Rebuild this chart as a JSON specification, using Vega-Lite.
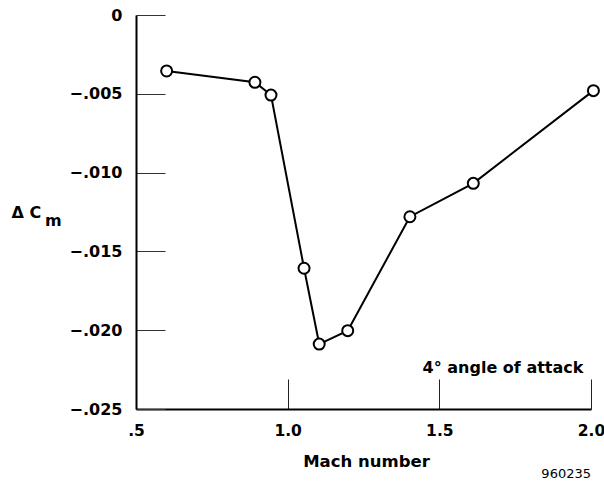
{
  "$schema": "https://vega.github.io/schema/vega-lite/v6.json",
  "width": 455,
  "height": 394,
  "autosize": {"type": "none"},
  "padding": {"left": 136, "top": 15, "right": 13, "bottom": 72},
  "background": "white",
  "config": {"view": {"stroke": null}, "font": "DejaVu Sans"},
  "title": {
    "text": "960235",
    "orient": "bottom",
    "anchor": "end",
    "frame": "group",
    "font": "DejaVu Sans",
    "fontSize": 13,
    "fontWeight": "normal",
    "color": "black",
    "offset": -2
  },
  "data": {
    "values": [
      {"Mach": 0.601, "dCm": -0.00355},
      {"Mach": 0.892, "dCm": -0.00427},
      {"Mach": 0.945, "dCm": -0.00508},
      {"Mach": 1.054, "dCm": -0.01607},
      {"Mach": 1.104, "dCm": -0.02088},
      {"Mach": 1.198, "dCm": -0.02003},
      {"Mach": 1.403, "dCm": -0.0128},
      {"Mach": 1.612, "dCm": -0.01068},
      {"Mach": 2.008, "dCm": -0.0048}
    ]
  },
  "encoding": {
    "x": {
      "field": "Mach",
      "type": "quantitative",
      "scale": {"domain": [0.5, 2.0], "nice": false, "zero": false},
      "axis": {
        "values": [0.5, 1, 1.5, 2],
        "labelExpr": "datum.value == 0.5 ? '.5' : format(datum.value, '.1f')",
        "grid": false,
        "domainColor": "black",
        "domainWidth": 2,
        "tickColor": "#222",
        "tickWidth": 1,
        "tickSize": -30,
        "labelFont": "DejaVu Sans",
        "labelFontWeight": "bold",
        "labelFontSize": 15.5,
        "labelColor": "black",
        "labelPadding": 44,
        "labelFlush": false,
        "labelOverlap": false,
        "labelBaseline": "top",
        "title": "Mach number",
        "titleFont": "DejaVu Sans",
        "titleFontSize": 16.5,
        "titleFontWeight": "bold",
        "titleColor": "black",
        "titleX": 230,
        "titleY": 57,
        "titleBaseline": "alphabetic",
        "titleAlign": "center"
      }
    },
    "y": {
      "field": "dCm",
      "type": "quantitative",
      "scale": {"domain": [-0.025, 0], "nice": false, "zero": false},
      "axis": {
        "values": [0, -0.005, -0.01, -0.015, -0.02, -0.025],
        "labelExpr": "datum.value == 0 ? '0' : replace(format(datum.value, '.3f'), '0.', '.')",
        "grid": false,
        "domainColor": "black",
        "domainWidth": 2,
        "tickColor": "#333",
        "tickWidth": 1,
        "tickSize": -29,
        "labelFont": "DejaVu Sans",
        "labelFontWeight": "bold",
        "labelFontSize": 16,
        "labelColor": "black",
        "labelPadding": 43,
        "labelFlush": false,
        "labelOverlap": false,
        "labelAlign": "right",
        "labelBaseline": "middle",
        "title": ["Δ C", "\u200b\u00a0\u00a0\u00a0\u00a0\u00a0\u00a0m"],
        "titleFont": "DejaVu Sans",
        "titleFontSize": 16,
        "titleFontWeight": "bold",
        "titleColor": "black",
        "titleAngle": 0,
        "titleAlign": "left",
        "titleBaseline": "alphabetic",
        "titleLineHeight": 8,
        "titleX": -125,
        "titleY": 202
      }
    }
  },
  "layer": [
    {"mark": {"type": "line", "color": "black", "strokeWidth": 2}},
    {
      "mark": {
        "type": "point",
        "filled": true,
        "fill": "white",
        "stroke": "black",
        "strokeWidth": 2,
        "size": 121,
        "opacity": 1
      }
    },
    {
      "data": {"values": [{"Mach": 1.975, "dCm": -0.02273, "label": "4° angle of attack"}]},
      "mark": {
        "type": "text",
        "align": "right",
        "baseline": "alphabetic",
        "font": "DejaVu Sans",
        "fontWeight": "bold",
        "fontSize": 16,
        "color": "black"
      },
      "encoding": {"text": {"field": "label"}}
    }
  ]
}
